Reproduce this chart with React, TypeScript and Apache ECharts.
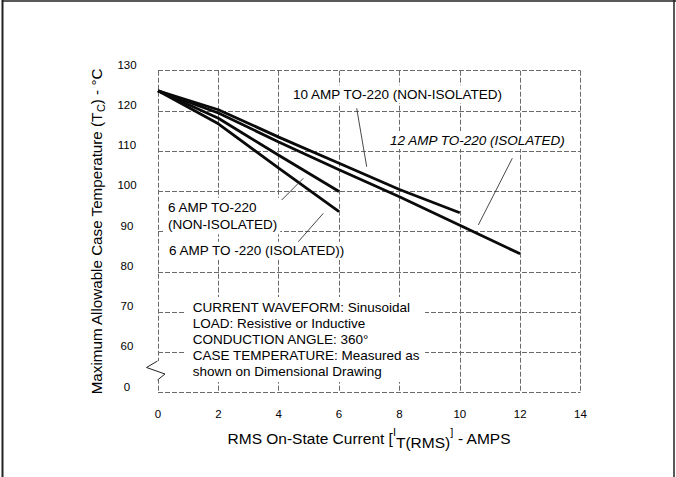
import React, { useEffect, useRef } from "react";
import * as echarts from "echarts";

const FONT = '"Liberation Sans", Arial, Helvetica, sans-serif';

// Data
const amps10 = [0, 2, 4, 6, 8, 10];
const temp10NonIso = [125, 120.3, 113.5, 107, 100.5, 94.7];
const amps12 = [0, 2, 4, 6, 8, 10, 12];
const temp12Iso = [125, 119.5, 112.3, 105.4, 98.7, 91.6, 84.5];
const amps6 = [0, 2, 4, 6];
const temp6NonIso = [125, 118.2, 109, 100];
const temp6Iso = [125, 116.8, 105.8, 95];

// Broken y axis: the lowest grid line stands for 0
const yTickValues = [50, 60, 70, 80, 90, 100, 110, 120, 130];
const yTickLabels = ["0", "60", "70", "80", "90", "100", "110", "120", "130"];
const xTickLabels = ["0", "2", "4", "6", "8", "10", "12", "14"];

const seriesNames = [
  "10 AMP TO-220 (NON-ISOLATED)",
  "12 AMP TO-220 (ISOLATED)",
  "6 AMP TO-220 (NON-ISOLATED)",
  "6 AMP TO-220 (ISOLATED)",
];

const noteLines = [
  "CURRENT WAVEFORM: Sinusoidal",
  "LOAD: Resistive or Inductive",
  "CONDUCTION ANGLE: 360°",
  "CASE TEMPERATURE: Measured as",
  "shown on Dimensional Drawing",
];

const pairs = (xs: number[], ys: number[]) => xs.map((x, i) => [x, ys[i]]);

export default function App() {
  const ref = useRef<HTMLDivElement>(null);
  useEffect(() => {
    if (!ref.current) return;
    const chart = echarts.init(ref.current, null, { renderer: "svg" });
    const ink = "#000";
    const gridLine = { color: "#6a6a6a", width: 1, type: [5, 2] as any };
    const lineSeries = (name: string, data: number[][]) => ({
      name,
      type: "line",
      data,
      showSymbol: false,
      symbol: "none",
      z: 3,
      lineStyle: { color: "#0a0a0a", width: 2.8 },
    });
    const labelStyle = (extra: any = {}) => ({
      fill: ink,
      font: `13.5px ${FONT}`,
      verticalAlign: "middle",
      align: "left",
      backgroundColor: "#fff",
      padding: [2, 3],
      ...extra,
    });
    const leader = (x1: number, y1: number, x2: number, y2: number) => ({
      type: "line",
      z: 20,
      shape: { x1, y1, x2, y2 },
      style: { stroke: "#333", lineWidth: 0.9 },
    });
    chart.setOption({
      animation: false,
      backgroundColor: "#fff",
      textStyle: { fontFamily: FONT },
      grid: { left: 158, right: 95.5, top: 70.7, bottom: 84.3 },
      xAxis: {
        type: "value",
        min: 0,
        max: 14,
        interval: 2,
        axisLine: { show: false },
        axisTick: { show: false },
        splitLine: { show: true, lineStyle: gridLine },
        axisLabel: {
          color: ink,
          fontSize: 11.5,
          fontFamily: FONT,
          margin: 15,
          formatter: (v: number) => xTickLabels[Math.round(v / 2)] ?? "",
        },
        name: "{a|RMS On-State Current [}{sm|I}{sub|T(RMS)}{sm|]}{a| - AMPS}",
        nameLocation: "middle",
        nameGap: 34,
        nameTextStyle: {
          rich: {
            a: { fontSize: 15.5, fontFamily: FONT, color: ink, lineHeight: 24, verticalAlign: "middle" },
            sm: { fontSize: 11, fontFamily: FONT, color: ink, lineHeight: 15, verticalAlign: "top" },
            sub: { fontSize: 15.5, fontFamily: FONT, color: ink, lineHeight: 15, verticalAlign: "bottom" },
          },
        },
      },
      yAxis: {
        type: "value",
        min: 50,
        max: 130,
        interval: 10,
        axisLine: { show: false },
        axisTick: { show: false },
        splitLine: { show: true, lineStyle: gridLine },
        axisLabel: {
          color: ink,
          fontSize: 11.5,
          fontFamily: FONT,
          align: "center",
          verticalAlign: "bottom",
          margin: 31,
          formatter: (v: number) => {
            const i = yTickValues.indexOf(Math.round(v));
            return i >= 0 ? yTickLabels[i] : "";
          },
        },
        name: "{a|Maximum Allowable Case Temperature (T}{s|C}{a|) - °C}",
        nameLocation: "middle",
        nameGap: 50,
        nameTextStyle: {
          rich: {
            a: { fontSize: 15.2, fontFamily: FONT, color: ink, lineHeight: 20, verticalAlign: "middle" },
            s: { fontSize: 11, fontFamily: FONT, color: ink, lineHeight: 12, verticalAlign: "bottom" },
          },
        },
      },
      series: [
        lineSeries(seriesNames[0], pairs(amps10, temp10NonIso)),
        lineSeries(seriesNames[1], pairs(amps12, temp12Iso)),
        lineSeries(seriesNames[2], pairs(amps6, temp6NonIso)),
        lineSeries(seriesNames[3], pairs(amps6, temp6Iso)),
      ],
      graphic: [
        // outer frame
        { type: "line", z: 30, shape: { x1: 2.5, y1: 0, x2: 2.5, y2: 477 }, style: { stroke: "#222", lineWidth: 2 } },
        { type: "line", z: 30, shape: { x1: 2, y1: 1, x2: 676, y2: 1 }, style: { stroke: "#222", lineWidth: 1.5 } },
        { type: "line", z: 30, shape: { x1: 674, y1: 0, x2: 674, y2: 477 }, style: { stroke: "#222", lineWidth: 1.5 } },
        // curve labels
        { type: "text", z: 20, x: 290, y: 94.3, style: labelStyle({ text: "10 AMP TO-220 (NON-ISOLATED)" }) },
        {
          type: "text",
          z: 20,
          x: 387,
          y: 140,
          style: labelStyle({ text: "12 AMP TO-220 (ISOLATED)", font: `italic 13.5px ${FONT}` }),
        },
        {
          type: "text",
          z: 20,
          x: 165,
          y: 216,
          style: labelStyle({ text: "6 AMP TO-220\n(NON-ISOLATED)", lineHeight: 16.3 }),
        },
        { type: "text", z: 20, x: 166, y: 250.7, style: labelStyle({ text: "6 AMP TO -220 (ISOLATED))" }) },
        leader(356.7, 108.3, 366.7, 166.7),
        leader(512.3, 158.3, 478.3, 225),
        leader(281.7, 200, 303.3, 178.3),
        leader(298.3, 241.7, 323.3, 213.3),
        // note block
        { type: "rect", z: 19, shape: { x: 186, y: 297, width: 239, height: 85 }, style: { fill: "#fff" } },
        {
          type: "text",
          z: 20,
          x: 192.7,
          y: 299.2,
          style: {
            text: noteLines.join("\n"),
            fill: ink,
            font: `13.5px ${FONT}`,
            lineHeight: 16.1,
            verticalAlign: "top",
            align: "left",
          },
        },
        // axis break symbol
        { type: "rect", z: 19, shape: { x: 155.5, y: 361, width: 5, height: 19 }, style: { fill: "#fff" } },
        {
          type: "polyline",
          z: 20,
          shape: { points: [[157.5, 361], [146.5, 367.5], [165, 374], [157.5, 380]] },
          style: { stroke: "#222", lineWidth: 1, fill: "none" },
        },
      ],
    });
    return () => chart.dispose();
  }, []);
  return (
    <div
      ref={ref}
      style={{ position: "absolute", left: 0, top: 0, width: 676, height: 477, background: "#fff" }}
    />
  );
}
